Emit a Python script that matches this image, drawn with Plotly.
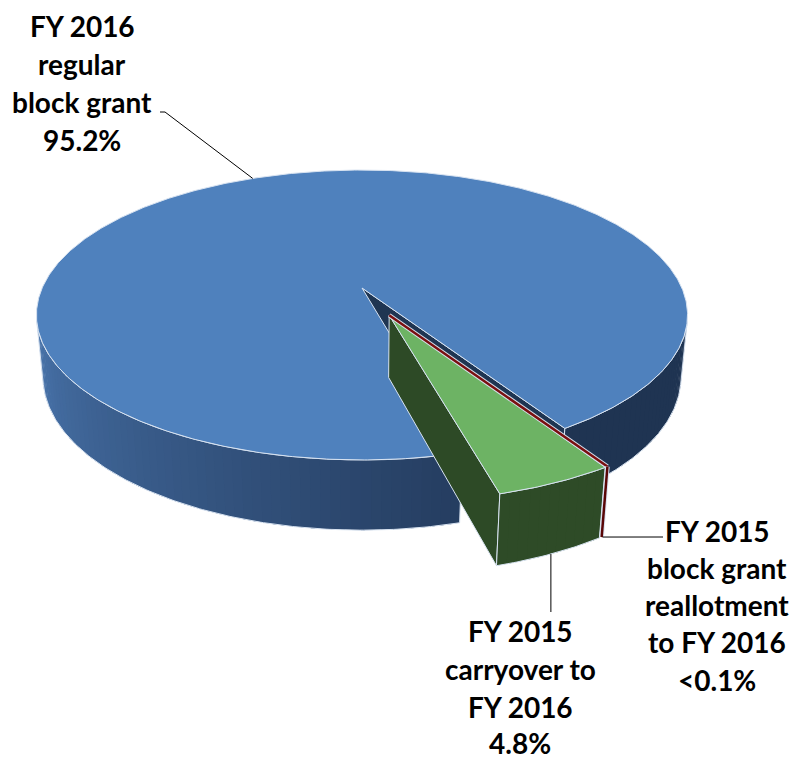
import numpy as np
import plotly.graph_objects as go

# ---------------- data ----------------
categories = ["FY 2016 regular block grant",
              "FY 2015 carryover to FY 2016",
              "FY 2015 block grant reallotment to FY 2016"]
shares = [95.2, 4.8, 0.05]          # percent of total
label_lines = [["FY 2016", "regular", "block grant"],
               ["FY 2015", "carryover to", "FY 2016"],
               ["FY 2015", "block grant", "reallotment", "to FY 2016"]]


def pct(v):
    return "<0.1%" if v < 0.1 else f"{v:.1f}%"


# ---------------- style / geometry ----------------
W, H = 796, 761
CX, CY = 362, 288            # pixel position of the pie centre
FOC = 1545.0                 # focal scale
DIST = 4.83                  # camera distance
SIN_E = 0.4375
COS_E = float(np.sqrt(1 - SIN_E ** 2))
THICK = 0.215
START = -57.7                # degrees, slices run counter-clockwise
PULL = [0.0, 0.205, 0.205]
TOP_COL = ["#4f81bd", "#6db364", "#7a1010"]
CUT_COL = ["#1f3552", "#2d4a26", "#5e0a0a"]
EDGE = "#d8e3f1"
FONT = "Lato"


def proj(X, Y, Z):
    X = np.asarray(X, float); Y = np.asarray(Y, float); Z = np.asarray(Z, float)
    d = Y * COS_E - Z * SIN_E
    yp = Y * SIN_E + Z * COS_E
    den = DIST + d
    return CX + FOC * X / den, CY - FOC * yp / den


def lerp_col(c1, c2, f):
    a = [int(c1[i:i + 2], 16) for i in (1, 3, 5)]
    b = [int(c2[i:i + 2], 16) for i in (1, 3, 5)]
    return "#%02x%02x%02x" % tuple(int(round(a[k] + (b[k] - a[k]) * f)) for k in range(3))


def side_color(i, t):
    if i == 0:
        tt = t % 360
        if tt < 300:
            f = min(max((tt - 190) / 100.0, 0), 1)
            return lerp_col("#4a76ae", "#233a5c", f)
        return "#1f3452"
    if i == 1:
        return "#2e4b27"
    return "#6a0c0c"


fig = go.Figure()


def poly(xs, ys, fill, line_col=None, lw=0):
    fig.add_trace(go.Scatter(
        x=list(xs) + [xs[0]], y=list(ys) + [ys[0]], mode="lines", fill="toself",
        fillcolor=fill, line=dict(color=line_col or fill, width=lw),
        hoverinfo="skip", showlegend=False))


def line(xs, ys, col, lw=1):
    fig.add_trace(go.Scatter(x=list(xs), y=list(ys), mode="lines",
                             line=dict(color=col, width=lw),
                             hoverinfo="skip", showlegend=False))


total = sum(shares)
bounds = START + 360.0 * np.concatenate([[0], np.cumsum(shares)]) / total
K = np.degrees(np.arcsin(1.0 / (DIST * COS_E)))
windows = [(-180 + K + 360 * k, -K + 360 * k) for k in (-1, 0, 1)]

# exploded group (all slices after the first) moves along its common bisector
group_mid = np.radians((bounds[1] + bounds[-1]) / 2)
slices = []
for i in range(len(shares)):
    t0, t1 = bounds[i], bounds[i + 1]
    mid = np.radians((t0 + t1) / 2)
    ox, oy = PULL[i] * np.cos(group_mid), PULL[i] * np.sin(group_mid)
    slices.append((t0, t1, mid, ox, oy))


def draw_side(i, t0, t1, ox, oy):
    for w0, w1 in windows:
        a0, a1 = max(t0, w0), min(t1, w1)
        if a1 <= a0:
            continue
        n = max(int((a1 - a0) / 1.5), 1)
        edges = np.linspace(a0, a1, n + 1)
        for k in range(n):
            s0 = edges[k]
            s1 = min(edges[k + 1] + 0.6, a1)
            tt = np.radians(np.linspace(s0, s1, 4))
            X = np.concatenate([ox + np.cos(tt), ox + np.cos(tt[::-1])])
            Y = np.concatenate([oy + np.sin(tt), oy + np.sin(tt[::-1])])
            Z = np.concatenate([np.zeros(4), -THICK * np.ones(4)])
            px, py = proj(X, Y, Z)
            poly(px, py, side_color(i, (s0 + s1) / 2))
        tt = np.radians(np.linspace(a0, a1, max(int(a1 - a0), 2) * 2))
        X = np.concatenate([ox + np.cos(tt), ox + np.cos(tt[::-1])])
        Y = np.concatenate([oy + np.sin(tt), oy + np.sin(tt[::-1])])
        Z = np.concatenate([np.zeros(len(tt)), -THICK * np.ones(len(tt))])
        px, py = proj(X, Y, Z)
        line(list(px) + [px[0]], list(py) + [py[0]], EDGE, 1)


def draw_top(i, t0, t1, ox, oy, lw=1):
    tt = np.radians(np.linspace(t0, t1, max(int((t1 - t0) * 2), 3)))
    X = np.concatenate([[ox], ox + np.cos(tt)])
    Y = np.concatenate([[oy], oy + np.sin(tt)])
    px, py = proj(X, Y, np.zeros(len(X)))
    poly(px, py, TOP_COL[i], EDGE, lw)


def draw_cut(i, t, ox, oy):
    tc = np.radians(t)
    px, py = proj([ox, ox + np.cos(tc), ox + np.cos(tc), ox],
                  [oy, oy + np.sin(tc), oy + np.sin(tc), oy],
                  [0, 0, -THICK, -THICK])
    poly(px, py, CUT_COL[i], EDGE, 1)


# blue (main) slice: right cut face, sides, top
t0, t1, mid, ox, oy = slices[0]
draw_cut(0, t0, ox, oy)
draw_side(0, t0, t1, ox, oy)
draw_top(0, t0, t1, ox, oy)

# green slice
t0, t1, mid, ox, oy = slices[1]
draw_cut(1, t0, ox, oy)
draw_side(1, t0, t1, ox, oy)
draw_top(1, t0, t1, ox, oy)

# red sliver (too thin to show at true width: drawn as a narrow band)
t0, t1, mid, ox, oy = slices[2]
ta = np.radians(t1 + 0.25)
px, py = proj([ox, ox + np.cos(ta)], [oy, oy + np.sin(ta)], [0, 0])
line(px, py, EDGE, 4.5)
line(px, py, TOP_COL[2], 2.5)
px, py = proj([ox + np.cos(ta), ox + np.cos(ta)], [oy + np.sin(ta), oy + np.sin(ta)],
              [0, -THICK])
line(px, py, EDGE, 4.5)
line(px, py, "#5a0606", 2.5)

# ---------------- labels & leader lines ----------------
label_pos = [(82, [26, 64, 102, 140]),
             (520, [631, 669, 707, 743]),
             (717, [531, 568, 605, 642, 680])]
annotations = []
for i, lines_ in enumerate(label_lines):
    lx, ys = label_pos[i]
    all_lines = lines_ + [pct(shares[i])]
    for j, txt in enumerate(all_lines):
        annotations.append(dict(
            x=lx, y=ys[j],
            xref="x", yref="y", text=f"<b>{txt}</b>", showarrow=False,
            xanchor="center", yanchor="middle",
            font=dict(family=FONT, size=28, color="#000000")))

# blue leader: from rim at mid angle up to label
t0, t1, mid, ox, oy = slices[0]
bx, by = proj([np.cos(mid)], [np.sin(mid)], [0])
line([bx[0], 165, 160], [by[0], 112, 112], "#000000", 1)
# green leader: from bottom rim at mid angle down to label
t0, t1, mid, ox, oy = slices[1]
gx, gy = proj([ox + np.cos(mid)], [oy + np.sin(mid)], [-THICK])
line([gx[0], gx[0]], [gy[0], 612], "#000000", 1)
# red leader
t0, t1, mid, ox, oy = slices[2]
ta = np.radians(t1 + 0.25)
rx, ry = proj([ox + np.cos(ta)], [oy + np.sin(ta)], [-THICK])
line([rx[0] + 1, 663], [ry[0], 537], "#000000", 1)

fig.update_layout(
    width=W, height=H,
    margin=dict(l=0, r=0, t=0, b=0),
    paper_bgcolor="white", plot_bgcolor="white",
    xaxis=dict(range=[0, W], visible=False, fixedrange=True),
    yaxis=dict(range=[H, 0], visible=False, fixedrange=True),
    annotations=annotations,
    showlegend=False,
)

fig.write_html("out.html", config={"displayModeBar": False},
               post_script="document.body.style.margin='0';document.body.style.overflow='hidden';")
